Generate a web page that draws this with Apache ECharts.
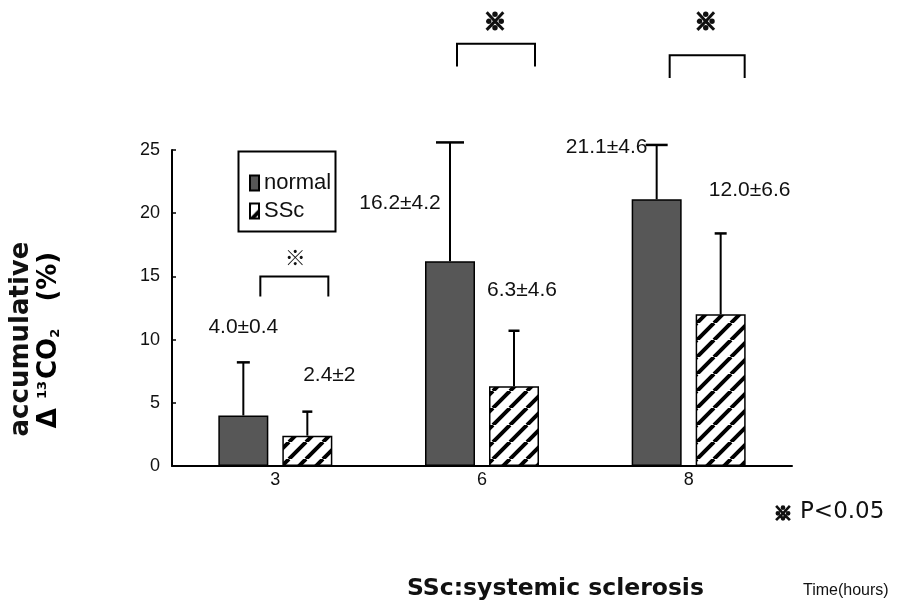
<!DOCTYPE html>
<html>
<head>
<meta charset="utf-8">
<script src="https://cdn.jsdelivr.net/npm/echarts@6/dist/echarts.min.js"></script>
<style>html,body{margin:0;padding:0;background:#fff;}#c{width:897px;height:611px;}</style>
</head>
<body>
<div id="c"></div>
<script>
// ---- data ----
const categories = ['3', '6', '8'];
const normalMean = [4.0, 16.2, 21.1];
const sscMean = [2.4, 6.3, 12.0];
const normalSD = ['0.4', '4.2', '4.6'];
const sscSD = ['2', '4.6', '6.6'];
const normalErrTop = [8.2, 25.6, 25.4];
const sscErrTop = [4.3, 10.7, 18.4];
const significant = [true, true, true];
const yTicks = [0, 5, 10, 15, 20, 25];

// ---- layout (pixel offsets / anchors) ----
const BAR_W = 50, BAR_GAP = 14;
const SIDE = (BAR_W + BAR_GAP) / 2;
const normalCapW = [13, 28, 22];
const sscCapW = [10, 11, 12];
const normalLabelPos = [[-32, 11.0], [-82, 20.8], [-82, 25.2]];
const sscLabelPos = [[54, 7.2], [40, 13.9], [61, 21.8]];
const bracketLayout = [
  { x1: -15, x2: 53, top: 15.0, bot: 13.4, starDx: 20, starY: 16.5, bold: false },
  { x1: -25, x2: 53, top: 33.4, bot: 31.6, starDx: 13, starY: 35.2, bold: true },
  { x1: -19, x2: 56, top: 32.5, bot: 30.7, starDx: 17, starY: 35.2, bold: true }
];

const NARROW = "'Liberation Sans Narrow','Arial Narrow','Liberation Sans',sans-serif";

// hatch pattern
function hatch() {
  const s = 17;
  const cv = document.createElement('canvas');
  cv.width = s; cv.height = s;
  const ctx = cv.getContext('2d');
  ctx.fillStyle = '#fff'; ctx.fillRect(0, 0, s, s);
  ctx.strokeStyle = '#000'; ctx.lineWidth = 4;
  ctx.beginPath();
  for (let k = -1; k <= 1; k++) { ctx.moveTo(k * s, s); ctx.lineTo(k * s + s, 0); }
  ctx.stroke();
  return cv;
}
const hatchFill = { image: hatch(), repeat: 'repeat' };

function errSeries(name, means, tops, side, caps) {
  return {
    type: 'custom', name: name + '_err', silent: true, clip: false, z: 5,
    data: means.map((m, i) => [i, m, tops[i]]),
    renderItem: function (params, api) {
      const b = api.coord([api.value(0), api.value(1)]);
      const t = api.coord([api.value(0), api.value(2)]);
      const x = b[0] + side;
      const cw = caps[params.dataIndex];
      return { type: 'group', children: [
        { type: 'line', shape: { x1: x, y1: b[1], x2: x, y2: t[1] }, style: { stroke: '#000', lineWidth: 2 } },
        { type: 'line', shape: { x1: x - cw / 2, y1: t[1], x2: x + cw / 2, y2: t[1] }, style: { stroke: '#000', lineWidth: 2.5 } }
      ]};
    }
  };
}

function labelSeries(means, sds, pos) {
  return {
    type: 'custom', silent: true, clip: false, z: 6,
    data: means.map((m, i) => [i, m]),
    renderItem: function (params, api) {
      const i = params.dataIndex;
      const p = api.coord([api.value(0), pos[i][1]]);
      return { type: 'text', style: {
        text: means[i].toFixed(1) + '±' + sds[i], x: p[0] + pos[i][0], y: p[1],
        align: 'center', verticalAlign: 'middle',
        font: "21px 'Liberation Sans', Arial, sans-serif", fill: '#111'
      }};
    }
  };
}

const bracketSeries = {
  type: 'custom', silent: true, clip: false, z: 6,
  data: significant.map((s, i) => [i, s ? 1 : 0]),
  renderItem: function (params, api) {
    const i = params.dataIndex;
    if (!significant[i]) return null;
    const L = bracketLayout[i];
    const top = api.coord([i, L.top]);
    const bot = api.coord([i, L.bot]);
    const st = api.coord([i, L.starY]);
    const cx = top[0];
    return { type: 'group', children: [
      { type: 'polyline', shape: { points: [[cx + L.x1, bot[1]], [cx + L.x1, top[1]], [cx + L.x2, top[1]], [cx + L.x2, bot[1]]] },
        style: { stroke: '#000', lineWidth: 2, fill: null } },
      { type: 'text', style: { text: '※', x: cx + L.starDx, y: st[1], align: 'center', verticalAlign: 'middle',
        font: (L.bold ? 'bold 22px' : '21px') + " 'Noto Sans CJK JP', sans-serif", fill: '#111',
        stroke: L.bold ? '#111' : null, lineWidth: L.bold ? 2.2 : 0 } }
    ]};
  }
};

const chart = echarts.init(document.getElementById('c'), null, { renderer: 'canvas' });
chart.setOption({
  animation: false,
  backgroundColor: '#fff',
  grid: { left: 172, right: 105, top: 150, bottom: 145 },
  legend: {
    data: ['normal', 'SSc'], orient: 'vertical', left: 249, top: 172, padding: 0,
    icon: 'rect', itemWidth: 9, itemHeight: 15, itemGap: 6,
    textStyle: { fontFamily: NARROW, fontSize: 22, color: '#111', lineHeight: 22 },
    selectedMode: false
  },
  xAxis: {
    type: 'category', data: categories,
    axisLine: { lineStyle: { color: '#000', width: 2 } },
    axisTick: { inside: true, length: 6, lineStyle: { color: '#000', width: 1.5 } },
    axisLabel: { fontFamily: NARROW, fontSize: 18, color: '#111', margin: 5 }
  },
  yAxis: {
    type: 'value', min: 0, max: 25, interval: 5,
    splitLine: { show: false },
    axisLine: { show: true, lineStyle: { color: '#000', width: 2 } },
    axisTick: { show: true, inside: true, length: 4, lineStyle: { color: '#000', width: 1.5 } },
    axisLabel: { fontFamily: NARROW, fontSize: 18, color: '#111', margin: 12,
      formatter: v => (yTicks.indexOf(v) >= 0 ? String(v) : '') }
  },
  series: [
    { name: 'normal', type: 'bar', data: normalMean, barWidth: BAR_W, barGap: (BAR_GAP / BAR_W * 100) + '%',
      itemStyle: { color: '#575757', borderColor: '#000', borderWidth: 1.5 } },
    { name: 'SSc', type: 'bar', data: sscMean, barWidth: BAR_W,
      itemStyle: { color: hatchFill, borderColor: '#000', borderWidth: 1.5 } },
    errSeries('normal', normalMean, normalErrTop, -SIDE, normalCapW),
    errSeries('SSc', sscMean, sscErrTop, SIDE, sscCapW),
    labelSeries(normalMean, normalSD, normalLabelPos),
    labelSeries(sscMean, sscSD, sscLabelPos),
    bracketSeries
  ],
  graphic: [
    { type: 'rect', left: 236, top: 149, shape: { width: 97, height: 80 }, style: { fill: null, stroke: '#000', lineWidth: 2 }, z: 10 },
    { type: 'text', x: 21, y: 339, rotation: Math.PI / 2, style: { text: 'accumulative', align: 'center', verticalAlign: 'middle',
      font: "bold 26px 'DejaVu Sans', sans-serif", fill: '#111' } },
    { type: 'text', x: 49, y: 340, rotation: Math.PI / 2, style: {
      text: '{a|Δ }{s|13}{a|CO}{b|2}{a|   (%)}', align: 'center', verticalAlign: 'middle',
      rich: {
        a: { fontFamily: 'DejaVu Sans', fontWeight: 'bold', fontSize: 26, color: '#111' },
        s: { fontFamily: 'DejaVu Sans', fontWeight: 'bold', fontSize: 13, color: '#111', verticalAlign: 'top', padding: [0, 2, 10, 0] },
        b: { fontFamily: 'DejaVu Sans', fontWeight: 'bold', fontSize: 13, color: '#111', verticalAlign: 'bottom', padding: [10, 0, 0, 0] }
      } } },
    { type: 'text', x: 407, y: 589, style: { text: 'SSc:systemic sclerosis', verticalAlign: 'middle',
      font: "bold 23.5px 'DejaVu Sans', sans-serif", fill: '#111' } },
    { type: 'text', x: 803, y: 591, style: { text: 'Time(hours)', verticalAlign: 'middle',
      font: "16px 'Liberation Sans', sans-serif", fill: '#111' } },
    { type: 'text', x: 774, y: 513, style: { text: '※', verticalAlign: 'middle',
      font: "bold 18px 'Noto Sans CJK JP', sans-serif", fill: '#111', stroke: '#111', lineWidth: 2 } },
    { type: 'text', x: 800, y: 512, style: { text: 'P<0.05', verticalAlign: 'middle',
      font: "23px 'DejaVu Sans', sans-serif", fill: '#111' } }
  ]
});
</script>
</body>
</html>
